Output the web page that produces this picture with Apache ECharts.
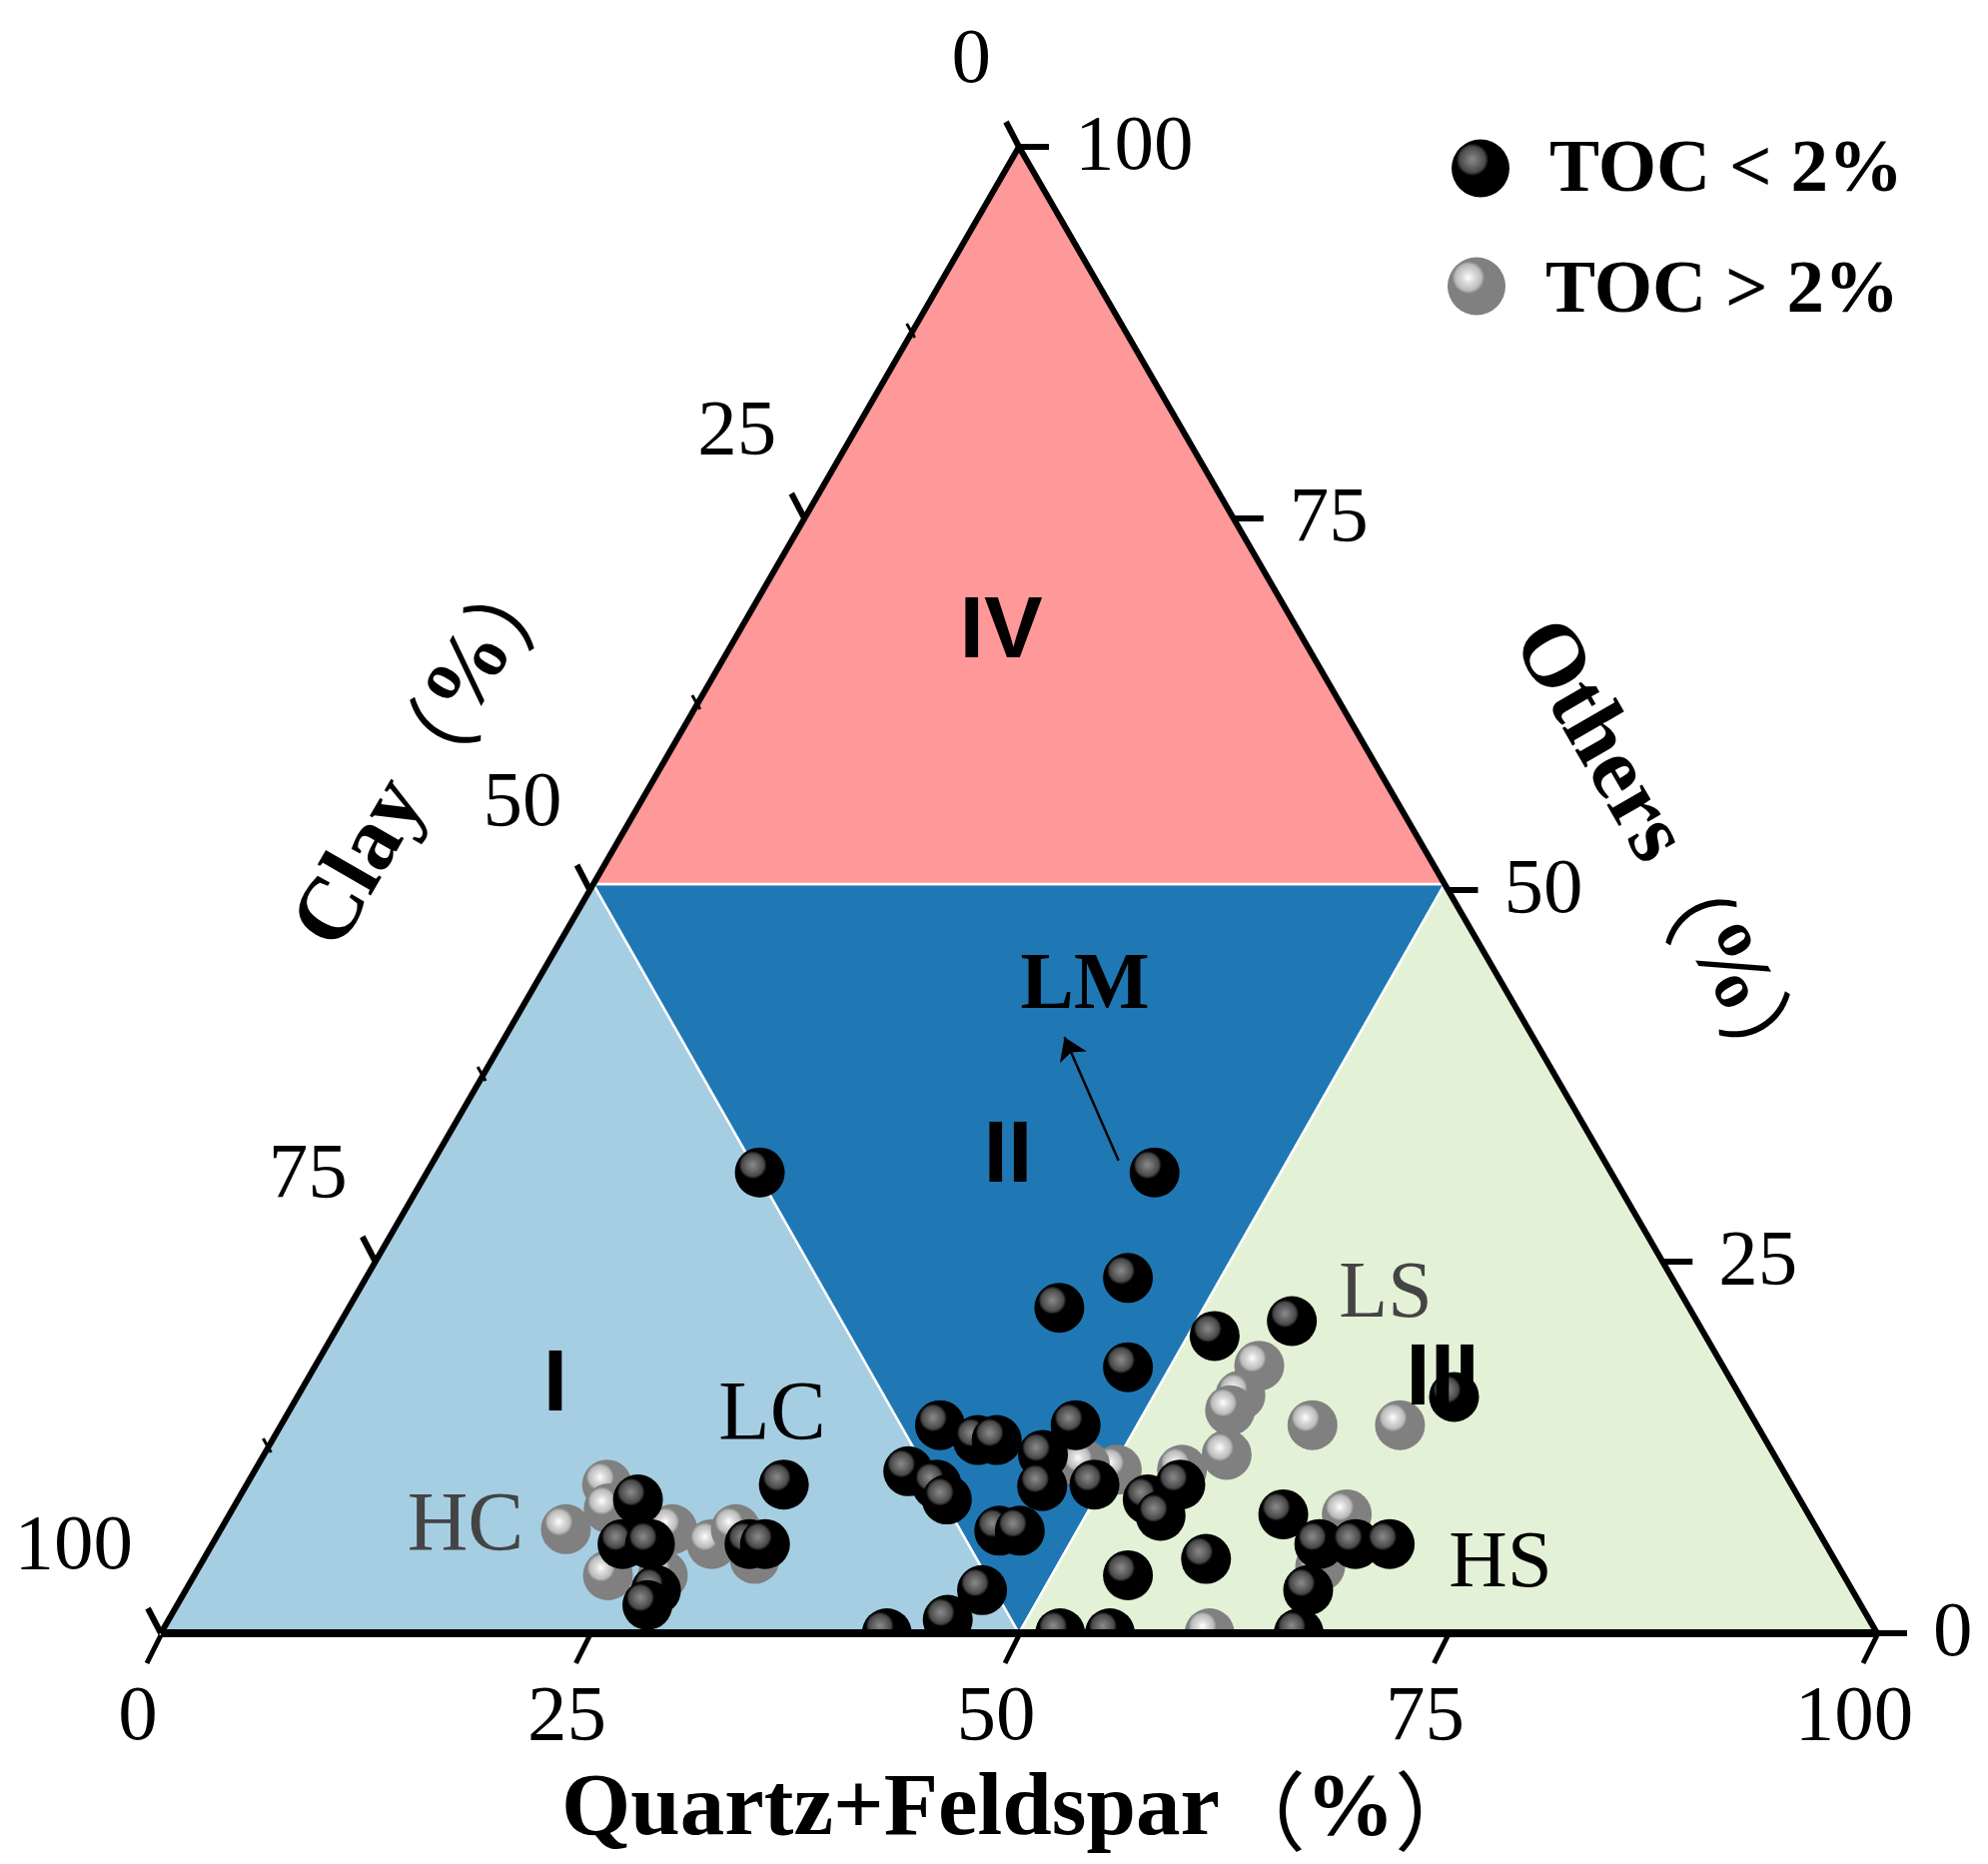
<!DOCTYPE html>
<html>
<head>
<meta charset="utf-8">
<title>Ternary</title>
<style>
  html, body { margin: 0; padding: 0; background: #fff; }
  #chart { width: 1990px; height: 1866px; }
</style>
<script src="https://cdn.jsdelivr.net/npm/echarts@6/dist/echarts.min.js"></script>
</head>
<body>
<div id="chart"></div>
<script>
// ternary data: quartz+feldspar % and others %, clay is the rest
var lowTocQuartz = [19.4,42.4,44.4,41.4,47.4,51.4,55.4,67.4,38.4,41.1,42.2,46.3,45.4,46.4,49.4,38.1,40.2,41.3,45.4,46.6,53,54.4,54.3,61.4,64.5,66.6,68.6,58.4,54.4,65.4,66.3,46.4,45.4,42.3,52.4,55.3,31.3,23.3,23.9,25.5,31.3,32.2,27.4,27.4];
var lowTocOthers = [31,31,23.9,21.9,17.9,20,21,15.9,14,13,13,14,12,9.9,10,10.9,10,9,6.9,6.9,9,10,7.9,8,6,6,6,5,3.9,2.9,0,2.9,0.9,0,0,0,10,9,6,6,6,6,2.9,1.9];
var highTocQuartz = [21,20.1,21.9,26.3,24.1,27.3,29.1,30,32.1,55,54.9,54.8,56.1,60.1,65.2,50.2,48.2,54,65.1,61.1,65.3];
var highTocOthers = [10,7,8.4,7,3.9,3.9,6,7,5,18,16,15,12,14,14,11,11.3,11,8,0,4.5];

// regions as [quartz, others] corners
var regionI = [[0,0],[50,0],[0,50.4]];
var regionII = [[0,50.4],[49.6,50.4],[50,0]];
var regionIII = [[50,0],[100,0],[49.6,50.4]];
var regionIV = [[0,50.4],[49.6,50.4],[0,100]];

var tickValues = [0,25,50,75,100];
var clayMinorTicks = [12.5,37.5,62.5,87.5];
var arrowFrom = [39.9,31.8];
var arrowTo = [32.6,40.1];

var lowName = 'TOC < 2%';
var highName = 'TOC > 2%';

// ternary -> plain x/y of the hidden cartesian axes
function toXY(quartz, others) {
    return [quartz + others / 2, others];
}
function zip(a, b) {
    return a.map(function (v, i) { return toXY(v, b[i]); });
}

var serif = '"Liberation Serif", serif';
var cjk = '"Noto Sans CJK SC", sans-serif';
var sans = '"Liberation Sans", sans-serif';

// shiny ball colors
var blackBall = {
    type: 'radial', x: 0.36, y: 0.35, r: 0.28,
    colorStops: [
        {offset: 0, color: '#8a8a8a'},
        {offset: 0.35, color: '#6e6e6e'},
        {offset: 0.8, color: '#484848'},
        {offset: 1, color: '#000'}
    ]
};
var greyBall = {
    type: 'radial', x: 0.36, y: 0.35, r: 0.28,
    colorStops: [
        {offset: 0, color: '#fff'},
        {offset: 0.35, color: '#ddd'},
        {offset: 0.8, color: '#bbb'},
        {offset: 1, color: '#808080'}
    ]
};

function regionSeries(name, corners, color) {
    return {
        name: name,
        type: 'custom',
        coordinateSystem: 'cartesian2d',
        z: 1,
        silent: true,
        data: [[0]],
        renderItem: function (params, api) {
            return {
                type: 'polygon',
                shape: {
                    points: corners.map(function (c) { return api.coord(toXY(c[0], c[1])); })
                },
                style: {fill: color, stroke: '#fff', lineWidth: 2.5}
            };
        }
    };
}

// ticks and their labels, pointOf gives the spot of a value on the edge
function tickSeries(name, values, pointOf, tick, label) {
    return {
        name: name,
        type: 'custom',
        coordinateSystem: 'cartesian2d',
        z: 6,
        silent: true,
        data: values.map(function (v) { return [v]; }),
        renderItem: function (params, api) {
            var v = values[params.dataIndex];
            var p = pointOf(v);
            var c = api.coord(toXY(p[0], p[1]));
            var kids = [{
                type: 'line',
                shape: {x1: c[0] + tick[0], y1: c[1] + tick[1], x2: c[0] + tick[2], y2: c[1] + tick[3]},
                style: {stroke: '#000', lineWidth: tick[4]}
            }];
            if (label) {
                kids.push({
                    type: 'text',
                    x: c[0] + label.dx,
                    y: c[1] + label.dy,
                    style: {
                        text: String(v),
                        font: '79px ' + serif,
                        fill: '#000',
                        textAlign: label.align,
                        textVerticalAlign: 'middle'
                    }
                });
            }
            return {type: 'group', children: kids};
        }
    };
}

function bottomPoint(v) { return [v, 0]; }
function rightPoint(v) { return [100 - v, v]; }
function leftPoint(v) { return [0, 100 - v]; }

function note(text, x, y, font, fill) {
    return {
        type: 'text',
        x: x,
        y: y,
        z: 20,
        style: {
            text: text,
            font: font,
            fill: fill || '#000',
            textAlign: 'center',
            textVerticalAlign: 'middle'
        }
    };
}

// axis name: bold word and percent, thin fullwidth brackets
var nameRich = {
    a: {fontFamily: serif, fontWeight: 'bold', fontSize: 89, fill: '#000', color: '#000'},
    b: {fontFamily: cjk, fontWeight: 'normal', fontSize: 86, fill: '#000', color: '#000'}
};
function axisName(word, x, y, rot) {
    return {
        type: 'text',
        x: x,
        y: y,
        rotation: rot,
        z: 20,
        style: {
            text: '{a|' + word + '}{b|（}{a|%}{b|）}',
            rich: nameRich,
            textAlign: 'center',
            textVerticalAlign: 'middle'
        }
    };
}

// legend text sits a bit lower than the ball
function legendText(topPad) {
    return {
        rich: {
            t: {
                fontFamily: serif, fontWeight: 'bold', fontSize: 75, color: '#000',
                padding: [topPad, 0, 0, 35],
                verticalAlign: 'bottom'
            }
        }
    };
}

var option = {
    animation: false,
    backgroundColor: '#fff',
    grid: {left: 161, right: 111, top: 147, bottom: 231},
    xAxis: {type: 'value', min: 0, max: 100, show: false},
    yAxis: {type: 'value', min: 0, max: 100, show: false},
    legend: [
        {
            left: 1448, top: 129, itemWidth: 58, itemHeight: 58, selectedMode: false,
            formatter: '{t|{name}}',
            textStyle: legendText(6),
            data: [{name: lowName, icon: 'circle', itemStyle: {color: blackBall}}]
        },
        {
            left: 1444, top: 250, itemWidth: 58, itemHeight: 58, selectedMode: false,
            formatter: '{t|{name}}',
            textStyle: legendText(12),
            data: [{name: highName, icon: 'circle', itemStyle: {color: greyBall}}]
        }
    ],
    graphic: [
        axisName('Quartz+Feldspar', 1022, 1813, 0),
        axisName('Clay', 428, 752, Math.PI / 3),
        axisName('Others', 1664, 856, -Math.PI / 3),
        note('I', 556, 1388, 'bold 88px ' + sans),
        note('II', 1009, 1159, 'bold 88px ' + sans),
        note('III', 1444, 1382, 'bold 88px ' + sans),
        note('IV', 1002, 634, 'bold 88px ' + sans),
        note('LC', 773, 1419, '84px ' + serif),
        note('HC', 466, 1530, '84px ' + serif, '#444'),
        note('LM', 1086, 988, 'bold 80px ' + serif),
        note('LS', 1387, 1297, '80px ' + serif, '#444'),
        note('HS', 1502, 1567, '81px ' + serif)
    ],
    series: [
        regionSeries('I', regionI, '#A6CEE3'),
        regionSeries('II', regionII, '#1F78B4'),
        regionSeries('III', regionIII, '#E3F2D6'),
        regionSeries('IV', regionIV, '#FF9999'),
        {
            name: highName,
            type: 'scatter',
            z: 2,
            clip: false,
            symbol: 'circle',
            symbolSize: 50,
            itemStyle: {color: greyBall, opacity: 1},
            data: zip(highTocQuartz, highTocOthers)
        },
        {
            name: lowName,
            type: 'scatter',
            z: 3,
            clip: false,
            symbol: 'circle',
            symbolSize: 50,
            itemStyle: {color: blackBall, opacity: 1},
            data: zip(lowTocQuartz, lowTocOthers)
        },
        {
            // balls sitting on the base are cut off by it
            name: 'base mask',
            type: 'custom',
            coordinateSystem: 'cartesian2d',
            z: 4,
            silent: true,
            data: [[0]],
            renderItem: function (params) {
                var box = params.coordSys;
                return {
                    type: 'rect',
                    shape: {x: box.x, y: box.y + box.height, width: box.width, height: 30},
                    style: {fill: '#fff'}
                };
            }
        },
        {
            name: 'edges',
            type: 'line',
            z: 5,
            silent: true,
            showSymbol: false,
            clip: false,
            lineStyle: {color: '#000', width: 6},
            data: [toXY(0, 0), toXY(0, 100), toXY(100, 0)]
        },
        {
            name: 'base',
            type: 'line',
            z: 5,
            silent: true,
            showSymbol: false,
            clip: false,
            lineStyle: {color: '#000', width: 8},
            data: [toXY(0, 0), toXY(100, 0)]
        },
        tickSeries('quartz ticks', tickValues, bottomPoint, [0, 2, -14, 30, 5], {dx: -23, dy: 85, align: 'center'}),
        tickSeries('others ticks', tickValues, rightPoint, [0, 0, 30, 0, 6], {dx: 56, dy: 1, align: 'left'}),
        tickSeries('clay ticks', tickValues, leftPoint, [0, 0, -13, -25, 6], {dx: -28, dy: -86, align: 'right'}),
        tickSeries('clay minor', clayMinorTicks, leftPoint, [3, 5, -5, -9, 3]),
        {
            name: 'arrow',
            type: 'lines',
            coordinateSystem: 'cartesian2d',
            z: 7,
            silent: true,
            symbol: ['none', 'arrow'],
            symbolSize: 22,
            lineStyle: {color: '#000', width: 2.5, opacity: 1},
            data: [{coords: [toXY(arrowFrom[0], arrowFrom[1]), toXY(arrowTo[0], arrowTo[1])]}]
        }
    ]
};

var chart = echarts.init(document.getElementById('chart'));
chart.setOption(option);
</script>
</body>
</html>
